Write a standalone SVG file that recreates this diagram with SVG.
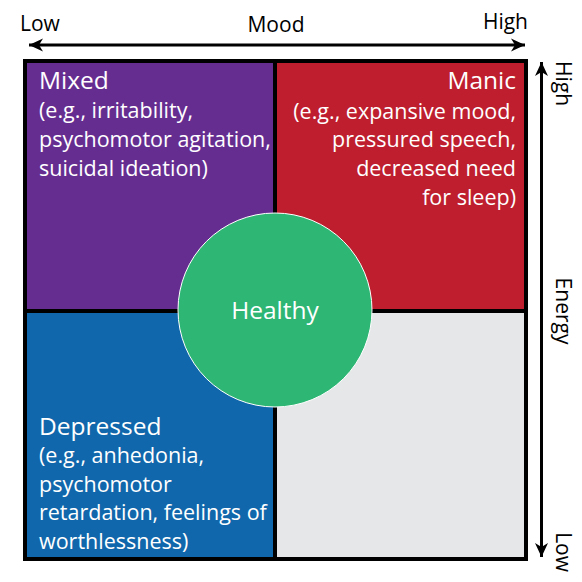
<svg xmlns="http://www.w3.org/2000/svg" width="582" height="582" viewBox="0 0 582 582">
<style>
  text { font-family: "Open Sans", "Noto Sans", "Liberation Sans", sans-serif; }
  .axis { font-size: 21px; fill: #000; }
  .title { font-size: 24.5px; fill: #fff; }
  .body { font-size: 21.5px; fill: #fff; }
  .arrow { stroke: #000; stroke-width: 3; fill: none; marker-start: url(#ah); marker-end: url(#ah); }
</style>
<defs>
  <marker id="ah" viewBox="-14 -7 15 14" refX="0" refY="0" markerWidth="15" markerHeight="14" markerUnits="userSpaceOnUse" orient="auto-start-reverse">
    <path d="M0,0 L-14,-6.5 L-10,0 L-14,6.5 Z" fill="#000"/>
  </marker>
</defs>

<g id="quadrant-mixed">
  <rect x="25" y="61" width="250" height="250" fill="#662D91"/>
  <text class="title" x="39" y="89">Mixed</text>
  <text class="body" x="39" y="118">(e.g., irritability,</text>
  <text class="body" x="39" y="147">psychomotor agitation,</text>
  <text class="body" x="39" y="175.5">suicidal ideation)</text>
</g>
<g id="quadrant-manic">
  <rect x="275" y="61" width="251" height="250" fill="#BE1E2D"/>
  <g text-anchor="end">
    <text class="title" x="516" y="89">Manic</text>
    <text class="body" x="516" y="118.5">(e.g., expansive mood,</text>
    <text class="body" x="516" y="147">pressured speech,</text>
    <text class="body" x="516" y="176">decreased need</text>
    <text class="body" x="516" y="204.5">for sleep)</text>
  </g>
</g>
<g id="quadrant-depressed">
  <rect x="25" y="311" width="250" height="248" fill="#1167AB"/>
  <text class="title" x="39" y="435">Depressed</text>
  <text class="body" x="39" y="463">(e.g., anhedonia,</text>
  <text class="body" x="39" y="491.5">psychomotor</text>
  <text class="body" x="39" y="520">retardation, feelings of</text>
  <text class="body" x="39" y="548.5">worthlessness)</text>
</g>
<g id="quadrant-empty">
  <rect x="275" y="311" width="251" height="248" fill="#E6E7E8"/>
</g>
<g id="frame">
  <line x1="275" y1="61" x2="275" y2="559" stroke="#000" stroke-width="4"/>
  <line x1="25" y1="311" x2="526" y2="311" stroke="#000" stroke-width="4"/>
  <rect x="25" y="61" width="501" height="498" fill="none" stroke="#000" stroke-width="4"/>
</g>
<g id="healthy">
  <circle cx="275" cy="310" r="97" fill="#2DB674" stroke="#fff" stroke-width="1"/>
  <text x="275" y="319" text-anchor="middle" style="font-size:24.5px;fill:#fff">Healthy</text>
</g>

<g id="connectors">
  <line class="arrow" x1="29" y1="45" x2="525" y2="45"/>
  <line class="arrow" x1="541.5" y1="62" x2="541.5" y2="557"/>
</g>

<g id="mood-axis-labels">
  <text class="axis" x="20" y="31">Low</text>
  <text class="axis" x="276" y="32" text-anchor="middle">Mood</text>
  <text class="axis" x="528" y="29" text-anchor="end">High</text>
</g>
<g id="energy-axis-labels">
  <text class="axis" transform="translate(556,61) rotate(90)">High</text>
  <text class="axis" transform="translate(556,311) rotate(90)" text-anchor="middle">Energy</text>
  <text class="axis" transform="translate(556,572) rotate(90)" text-anchor="end">Low</text>
</g>
</svg>
